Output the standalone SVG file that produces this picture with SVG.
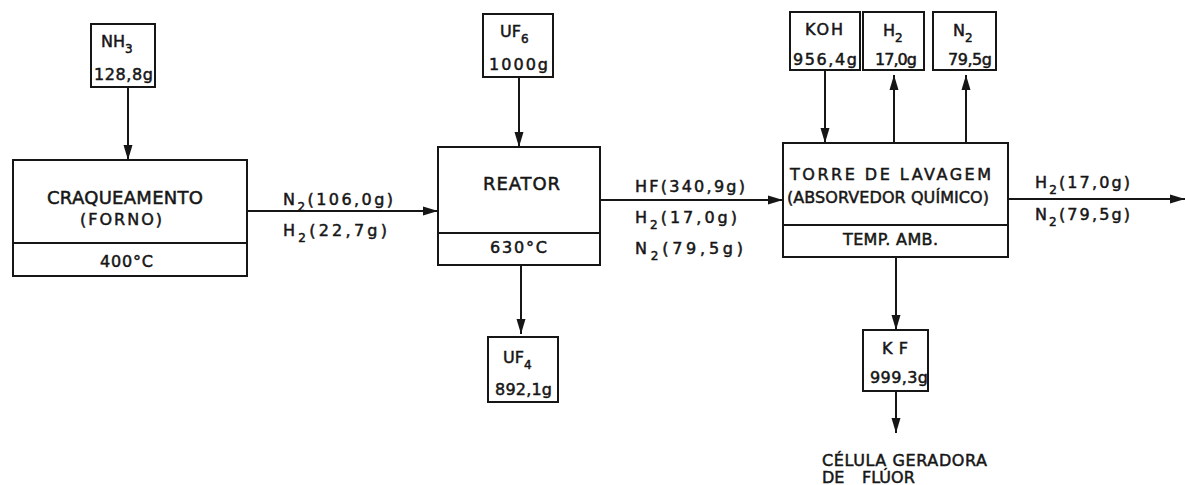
<svg xmlns="http://www.w3.org/2000/svg" width="1185" height="485" viewBox="0 0 1185 485">
<style>
.box{fill:#fff;stroke:#161616;stroke-width:2}
.ln{fill:none;stroke:#161616;stroke-width:2}
text{font-family:"DejaVu Sans","Liberation Sans",sans-serif;fill:#161616;stroke:#161616;stroke-width:0.5}
.m{font-size:16px}
.b{font-size:18px}
.s{font-size:12px}
</style>
<defs>
<marker id="ah" markerWidth="15" markerHeight="10" refX="15" refY="5" orient="auto" markerUnits="userSpaceOnUse">
<path d="M0,0.5 L15,5 L0,9.5 z" fill="#161616"/>
</marker>
</defs>
<rect width="1185" height="485" fill="#fff"/>
<g id="connectors">
<line class="ln" x1="128" y1="88" x2="128" y2="160" marker-end="url(#ah)"/>
<line class="ln" x1="247" y1="211" x2="438" y2="211" marker-end="url(#ah)"/>
<line class="ln" x1="519" y1="78" x2="519" y2="147" marker-end="url(#ah)"/>
<line class="ln" x1="521" y1="265" x2="521" y2="334" marker-end="url(#ah)"/>
<line class="ln" x1="600" y1="200" x2="783" y2="200" marker-end="url(#ah)"/>
<line class="ln" x1="825" y1="71" x2="825" y2="143" marker-end="url(#ah)"/>
<line class="ln" x1="894" y1="143" x2="894" y2="75" marker-end="url(#ah)"/>
<line class="ln" x1="966" y1="143" x2="966" y2="75" marker-end="url(#ah)"/>
<line class="ln" x1="1008" y1="199" x2="1185" y2="199" marker-end="url(#ah)"/>
<line class="ln" x1="896" y1="257" x2="896" y2="330" marker-end="url(#ah)"/>
<line class="ln" x1="896" y1="391" x2="896" y2="433" marker-end="url(#ah)"/>
<text class="m" x="283" y="205" textLength="110">N<tspan class="s" dy="6">2</tspan><tspan dy="-6">(106,0g)</tspan></text>
<text class="m" x="283" y="236" textLength="104">H<tspan class="s" dy="6">2</tspan><tspan dy="-6">(22,7g)</tspan></text>
<text class="m" x="635" y="192" textLength="110">HF(340,9g)</text>
<text class="m" x="635" y="223" textLength="102">H<tspan class="s" dy="6">2</tspan><tspan dy="-6">(17,0g)</tspan></text>
<text class="m" x="635" y="254" textLength="108">N<tspan class="s" dy="6">2</tspan><tspan dy="-6">(79,5g)</tspan></text>
<text class="m" x="1035" y="188" textLength="95">H<tspan class="s" dy="6">2</tspan><tspan dy="-6">(17,0g)</tspan></text>
<text class="m" x="1035" y="220" textLength="95">N<tspan class="s" dy="6">2</tspan><tspan dy="-6">(79,5g)</tspan></text>
<text class="m" x="822" y="466" textLength="165">CÉLULA  GERADORA</text>
<text class="m" x="822" y="483">DE<tspan x="862">FLÚOR</tspan></text>
</g>
<g id="nh3">
<rect class="box" x="91" y="24" width="64" height="63"/>
<text class="m" x="101" y="47">NH<tspan class="s" dy="6">3</tspan></text>
<text class="m" x="94" y="80" textLength="59">128,8g</text>
</g>
<g id="craqueamento">
<rect class="box" x="13" y="160" width="234" height="116"/>
<line class="ln" x1="13" y1="243" x2="247" y2="243"/>
<text class="b" x="47" y="204" textLength="156">CRAQUEAMENTO</text>
<text class="m" x="80" y="225" textLength="82">(FORNO)</text>
<text class="m" x="100" y="267" textLength="53">400°C</text>
</g>
<g id="uf6">
<rect class="box" x="483" y="14" width="70" height="63"/>
<text class="m" x="500" y="37">UF<tspan class="s" dy="6">6</tspan></text>
<text class="m" x="489" y="70" textLength="59">1000g</text>
</g>
<g id="reator">
<rect class="box" x="438" y="147" width="162" height="118"/>
<line class="ln" x1="438" y1="233" x2="600" y2="233"/>
<text class="b" x="483" y="190" textLength="77">REATOR</text>
<text class="m" x="490" y="253" textLength="57">630°C</text>
</g>
<g id="uf4">
<rect class="box" x="488" y="337" width="70" height="65"/>
<text class="m" x="503" y="363">UF<tspan class="s" dy="6">4</tspan></text>
<text class="m" x="495" y="395" textLength="57">892,1g</text>
</g>
<g id="koh">
<rect class="box" x="790" y="12" width="70" height="58"/>
<text class="m" x="805" y="35" textLength="38">KOH</text>
<text class="m" x="793" y="65" textLength="64">956,4g</text>
</g>
<g id="h2">
<rect class="box" x="863" y="12" width="61" height="58"/>
<text class="m" x="883" y="36">H<tspan class="s" dy="6">2</tspan></text>
<text class="m" x="875" y="65" textLength="42">17,0g</text>
</g>
<g id="n2">
<rect class="box" x="933" y="12" width="63" height="58"/>
<text class="m" x="953" y="36">N<tspan class="s" dy="6">2</tspan></text>
<text class="m" x="948" y="65" textLength="44">79,5g</text>
</g>
<g id="torre">
<rect class="box" x="783" y="143" width="225" height="114"/>
<line class="ln" x1="783" y1="225" x2="1008" y2="225"/>
<text class="m" x="790" y="180" textLength="201">TORRE DE LAVAGEM</text>
<text class="m" x="787" y="203" textLength="202">(ABSORVEDOR QUÍMICO)</text>
<text class="m" x="843" y="245" textLength="95">TEMP. AMB.</text>
</g>
<g id="kf">
<rect class="box" x="863" y="330" width="65" height="61"/>
<text class="m" x="882" y="354" textLength="26">KF</text>
<text class="m" x="870" y="383" textLength="58">999,3g</text>
</g>
</svg>
